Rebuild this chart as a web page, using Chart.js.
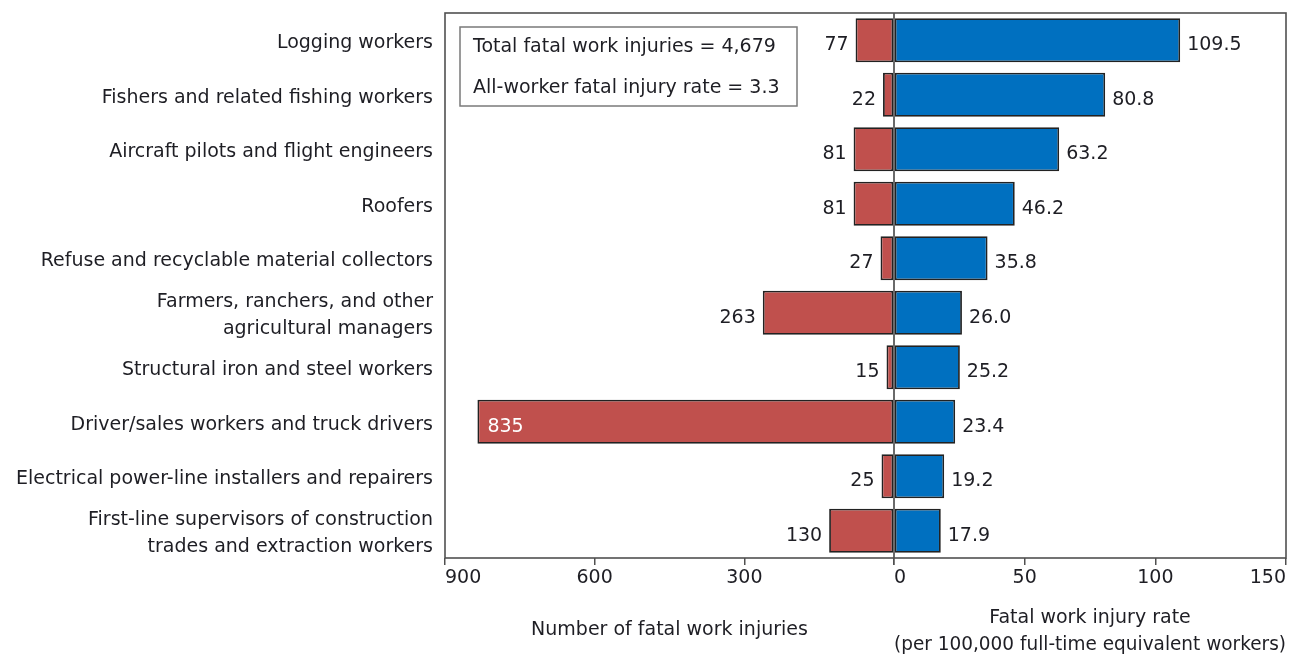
<!DOCTYPE html>
<html><head><meta charset="utf-8">
<script src="https://cdn.jsdelivr.net/npm/chart.js@4.4.0/dist/chart.umd.min.js"></script>
<style>html,body{margin:0;padding:0;background:#fff;overflow:hidden}#wrap{width:1289px;height:655px;position:relative}</style>
</head><body><div id="wrap"><canvas id="c" width="1289" height="655"></canvas></div>
<script>
const categories = [
  'Logging workers',
  'Fishers and related fishing workers',
  'Aircraft pilots and flight engineers',
  'Roofers',
  'Refuse and recyclable material collectors',
  ['Farmers, ranchers, and other', 'agricultural managers'],
  'Structural iron and steel workers',
  'Driver/sales workers and truck drivers',
  'Electrical power-line installers and repairers',
  ['First-line supervisors of construction', 'trades and extraction workers']
];
const fatalInjuries = [77, 22, 81, 81, 27, 263, 15, 835, 25, 130];
const fatalRates = [109.5, 80.8, 63.2, 46.2, 35.8, 26.0, 25.2, 23.4, 19.2, 17.9];
const injuryTicks = [0, 300, 600, 900];
const rateTicks = [0, 50, 100, 150];
const summaryLines = ['Total fatal work injuries = 4,679', 'All-worker fatal injury rate = 3.3'];
const leftTitle = 'Number of fatal work injuries';
const rightTitle = ['Fatal work injury rate', '(per 100,000 full-time equivalent workers)'];

const FONT = '"DejaVu Sans", Verdana, sans-serif';
const FS = 19;
const TEXT = '#1e1e24';
Chart.defaults.font.family = FONT;
Chart.defaults.font.size = FS;
Chart.defaults.color = TEXT;

const overlay = {
  id: 'overlay',
  afterDatasetsDraw(chart) {
    const ctx = chart.ctx, ca = chart.chartArea;
    ctx.save();
    ctx.font = FS + 'px ' + FONT;
    ctx.textBaseline = 'middle';
    chart.getDatasetMeta(0).data.forEach((bar, i) => {
      const txt = String(fatalInjuries[i]);
      const w = ctx.measureText(txt).width;
      const y = bar.y + 5;
      if (bar.x - 8 - w < ca.left) {
        ctx.fillStyle = '#ffffff'; ctx.textAlign = 'left';
        ctx.fillText(txt, bar.x + 10, y);
      } else {
        ctx.fillStyle = TEXT; ctx.textAlign = 'right';
        ctx.fillText(txt, bar.x - 7, y);
      }
    });
    chart.getDatasetMeta(1).data.forEach((bar, i) => {
      ctx.fillStyle = TEXT; ctx.textAlign = 'left';
      ctx.fillText(fatalRates[i].toFixed(1), bar.x + 7, bar.y + 5);
    });
    // zero line
    const xz = chart.scales.xR.getPixelForValue(0);
    ctx.strokeStyle = '#6a6a6a'; ctx.lineWidth = 2;
    ctx.beginPath(); ctx.moveTo(xz, ca.top); ctx.lineTo(xz, ca.bottom); ctx.stroke();
    // frame
    ctx.strokeStyle = '#505050'; ctx.lineWidth = 1.6;
    ctx.strokeRect(ca.left, ca.top, ca.right - ca.left, ca.bottom - ca.top);
    // summary box
    const bx = ca.left + 15, by = ca.top + 14, bw = 337, bh = 79;
    ctx.strokeStyle = '#7a7a7a'; ctx.lineWidth = 1.5;
    ctx.strokeRect(bx, by, bw, bh);
    ctx.fillStyle = TEXT; ctx.textAlign = 'left';
    ctx.fillText(summaryLines[0], bx + 13, by + 20);
    ctx.fillText(summaryLines[1], bx + 13, by + 61);
    ctx.restore();
  }
};

new Chart(document.getElementById('c'), {
  type: 'bar',
  data: {
    labels: categories,
    datasets: [
      {
        data: fatalInjuries, xAxisID: 'xL', yAxisID: 'y',
        backgroundColor: '#c0504d', borderColor: '#222222', borderWidth: 1.8,
        borderSkipped: false, grouped: false,
        categoryPercentage: 1, barPercentage: 0.81
      },
      {
        data: fatalRates, xAxisID: 'xR', yAxisID: 'y',
        backgroundColor: '#0070c0', borderColor: '#222222', borderWidth: 1.8,
        borderSkipped: false, grouped: false,
        categoryPercentage: 1, barPercentage: 0.81
      }
    ]
  },
  options: {
    indexAxis: 'y',
    responsive: false,
    animation: false,
    devicePixelRatio: 1,
    layout: { padding: { top: 13, right: 3, left: 0, bottom: 0 } },
    plugins: { legend: { display: false }, tooltip: { enabled: false } },
    scales: {
      y: {
        type: 'category',
        grid: { display: false, drawTicks: false },
        border: { display: false },
        ticks: { padding: 12, labelOffset: 3, autoSkip: false, color: TEXT,
                 font: { size: FS, lineHeight: 1.4 } },
        afterFit(s) { s.width = 445; s.paddingTop = 0; s.paddingBottom = 0; }
      },
      xL: {
        type: 'linear', position: 'bottom', stack: 'x', stackWeight: 449,
        reverse: true, min: 0, max: 900,
        grid: { drawOnChartArea: false, drawTicks: true, tickLength: 7, color: '#505050', lineWidth: 1.5 },
        border: { display: false },
        afterBuildTicks(s) { s.ticks = injuryTicks.map(v => ({ value: v })); },
        ticks: { align: 'inner', padding: 2, color: TEXT, font: { size: FS },
                 callback: v => (v === 0 ? '' : String(v)) },
        title: { display: true, text: leftTitle, color: TEXT, font: { size: FS },
                 padding: { top: 0, bottom: 14 } },
        afterFit(s) { s.height = 97; }
      },
      xR: {
        type: 'linear', position: 'bottom', stack: 'x', stackWeight: 392,
        min: 0, max: 150,
        grid: { drawOnChartArea: false, drawTicks: true, tickLength: 7, color: '#505050', lineWidth: 1.5 },
        border: { display: false },
        afterBuildTicks(s) { s.ticks = rateTicks.map(v => ({ value: v })); },
        ticks: { align: 'inner', padding: 2, color: TEXT, font: { size: FS } },
        title: { display: true, text: rightTitle, color: TEXT, font: { size: FS, lineHeight: 1.4 },
                 padding: { top: 0, bottom: -3 } },
        afterFit(s) { s.height = 97; }
      }
    }
  },
  plugins: [overlay]
});
</script>
</body></html>
